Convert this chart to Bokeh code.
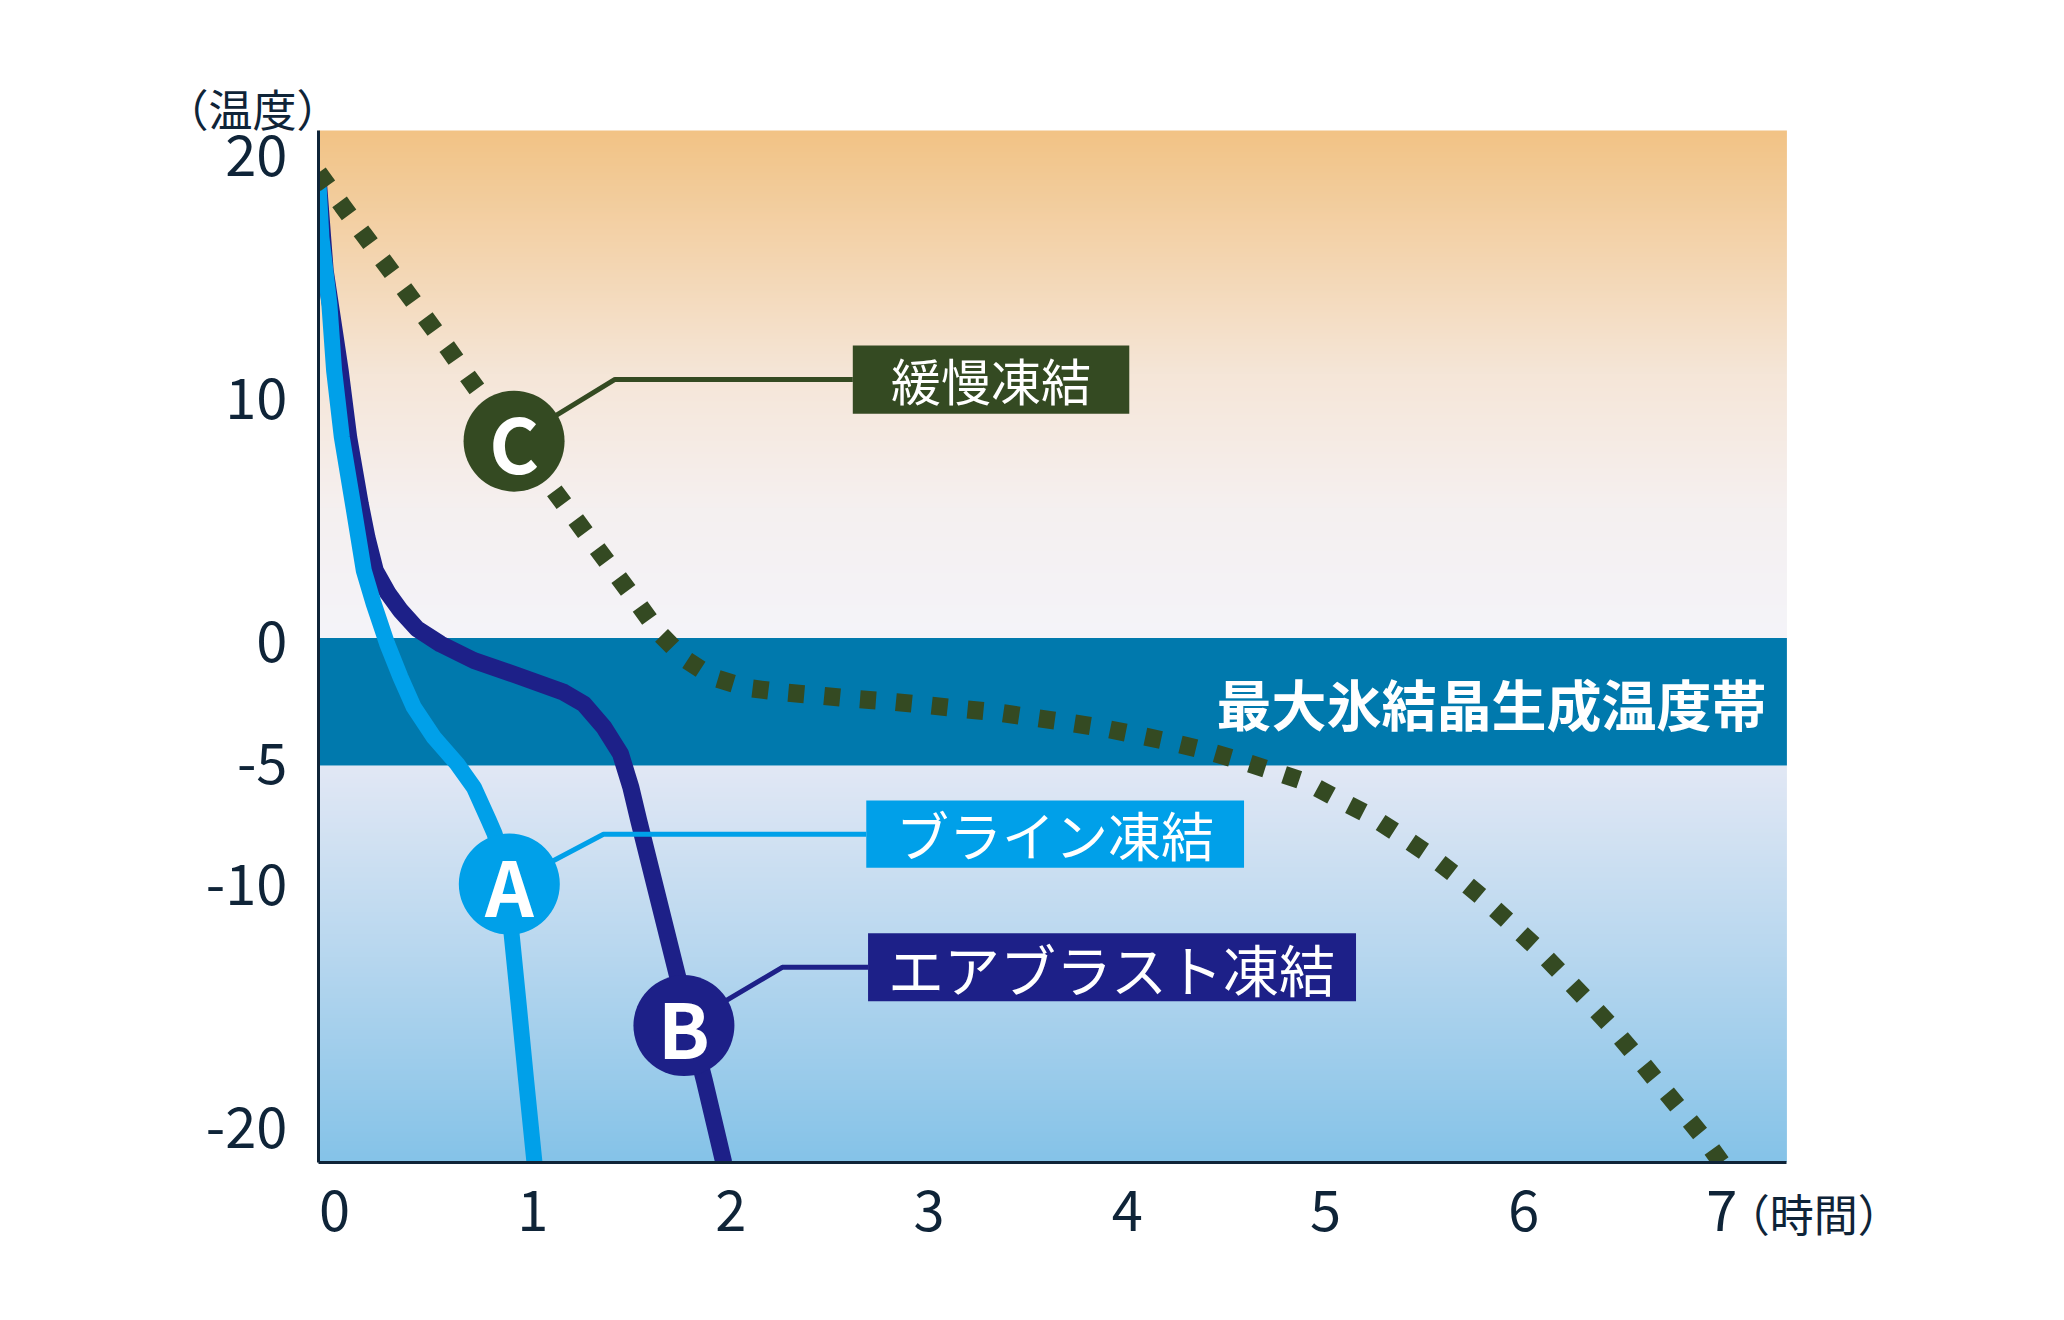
import numpy as np
from bokeh.plotting import figure
from bokeh.models import Range1d, FixedTicker, ColumnDataSource
from bokeh.core.properties import value
from bokeh.embed import file_html
from bokeh.resources import INLINE

# ---------------- data ----------------
x_ticks = [0, 1, 2, 3, 4, 5, 6, 7]
y_ticks = [-20, -10, -5, 0, 10, 20]
y_tick_labels = ["-20", "-10", "-5", "0", "10", "20"]
x_unit_label = "（時間）"
y_unit_label = "（温度）"

# plotted area (hours, degrees)
t_min, t_max = -0.081, 7.328
temp_min, temp_max = -21.45, 21.04

# A : brine freezing
brine_t = [-0.081, -0.066, -0.026, -0.002, 0.037, 0.093, 0.148, 0.198, 0.266, 0.333,
           0.400, 0.501, 0.619, 0.703, 0.779, 0.807, 0.845, 0.875, 0.893, 0.930, 0.967, 1.009]
brine_temp = [18.9, 16.64, 13.90, 11.16, 8.41, 5.67, 2.92, 1.55, -0.10, -1.47,
              -2.70, -3.94, -5.04, -6.00, -7.37, -7.90, -8.90, -10.0, -12.0, -15.0, -18.07, -21.45]

# B : air blast freezing
air_t = [-0.081, -0.047, 0.004, 0.029, 0.072, 0.130, 0.164, 0.206, 0.269, 0.333, 0.417,
         0.535, 0.703, 0.922, 1.157, 1.258, 1.359, 1.443, 1.495, 1.535, 1.730, 1.866, 1.964]
air_temp = [18.9, 15.28, 12.52, 11.15, 8.39, 5.67, 4.28, 2.92, 2.00, 1.28, 0.52,
            -0.10, -0.78, -1.40, -2.09, -2.57, -3.53, -4.62, -6.00, -7.37, -13.75, -18.07, -21.45]

# C : slow freezing
slow_t = [-0.081, 0.039, 0.145, 0.358, 0.568, 0.673, 0.906, 1.108, 1.426, 1.532,
          1.640, 1.766, 1.914, 2.085, 2.264, 2.445, 2.625, 2.805, 2.981, 3.161,
          3.339, 3.515, 3.693, 3.871, 4.048, 4.225, 4.396, 4.569, 4.742, 4.904,
          5.059, 5.223, 5.375, 5.524, 5.664, 5.803, 5.937, 6.067, 6.191, 6.315,
          6.439, 6.557, 6.672, 6.786, 6.898, 6.997]
slow_temp = [19.3, 17.95, 16.78, 14.45, 12.12, 10.91, 8.3, 6.22, 2.72, 1.55,
             0.34, -0.71, -1.49, -1.91, -2.09, -2.22, -2.36, -2.47, -2.61, -2.77,
             -2.91, -3.12, -3.32, -3.55, -3.84, -4.15, -4.49, -4.90, -5.35, -5.79,
             -6.47, -7.16, -7.96, -8.78, -9.67, -10.62, -11.63, -12.62, -13.67, -14.73,
             -15.82, -16.96, -18.10, -19.22, -20.33, -21.45]

# zone of maximum ice crystal formation
band_top = 0.15
band_bottom = -5.1
band_label = "最大氷結晶生成温度帯"

# marker circles
marker_letters = ["A", "B", "C"]
marker_t = [0.882, 1.763, 0.906]
marker_temp = [-9.98, -15.81, 8.25]

# callout labels
callout_names = ["ブライン凍結", "エアブラスト凍結", "緩慢凍結"]

# ---------------- layout / style ----------------
W, H = 2048, 1304
ZERO_PX, TOP_PX = 334.0, 130.0          # canvas px of t=0 and of temp_max
PX_X, PX_Y = 198.2, 24.29               # px per hour, px per degree
FL, FR, FT, FB = 100, 2000, 40, 1290    # frame edges in canvas px

C_A, C_B, C_C = "#00a0e9", "#1d2088", "#344a22"
BAND = "#0079ad"
INK = "#0f2438"
FONT = "Noto Sans CJK JP"

box_left = [2.683, 2.692, 2.615]
box_right = [4.589, 5.154, 4.010]
box_top = [-6.546, -12.01, 12.19]
box_bottom = [-9.317, -14.81, 9.38]
box_text_x = [3.635, 3.923, 3.312]
box_text_y = [-7.93, -13.41, 10.79]
box_font = ["53px", "56px", "50px"]
elbow_x = [1.357, 2.259, 1.415]

xr = Range1d((FL - ZERO_PX) / PX_X, (FR - ZERO_PX) / PX_X)
yr = Range1d(temp_max - (FB - TOP_PX) / PX_Y, temp_max + (TOP_PX - FT) / PX_Y)

p = figure(width=W, height=H, x_range=xr, y_range=yr,
           output_backend="svg", toolbar_location=None,
           min_border_left=FL, min_border_right=W - FR, min_border_top=FT, min_border_bottom=H - FB)
p.grid.visible = False
p.outline_line_color = None
p.background_fill_color = "white"
p.border_fill_color = "white"


def gradient(y_lo, y_hi, stops, n=600):
    ys = np.linspace(y_lo, y_hi, n)
    stops = sorted(stops)
    sy = np.array([s[0] for s in stops])
    cols = np.array([[int(s[1][i:i + 2], 16) for i in (1, 3, 5)] for s in stops])
    img = np.empty((n, 2), dtype=np.uint32)
    view = img.view(dtype=np.uint8).reshape((n, 2, 4))
    for c in range(3):
        view[:, :, c] = np.interp(ys, sy, cols[:, c]).astype(np.uint8)[:, None]
    view[:, :, 3] = 255
    return img


upper = gradient(band_top, temp_max, [(temp_max, "#f2c385"), (11.0, "#f5e6d8"), (5.5, "#f5f0f0"), (band_top, "#f4f4f9")])
lower = gradient(temp_min, band_bottom, [(band_bottom, "#e2e8f5"), (-13.0, "#b7d7ef"), (temp_min, "#85c3e8")])
p.image_rgba(image=[upper], x=t_min, y=band_top, dw=t_max - t_min, dh=temp_max - band_top)
p.image_rgba(image=[lower], x=t_min, y=temp_min, dw=t_max - t_min, dh=band_bottom - temp_min)

p.quad(left=[t_min], right=[t_max], top=[band_top], bottom=[band_bottom], fill_color=BAND, line_color=None)
p.text(x=[5.838], y=[-2.47], text=[band_label], text_font=value(FONT), text_font_size=value("55px"),
       text_font_style="bold", text_color="white", text_align="center", text_baseline="middle")

# curves
p.line(air_t, air_temp, line_color=C_B, line_width=17, line_join="round")
p.line(brine_t, brine_temp, line_color=C_A, line_width=16, line_join="round")
p.line(slow_t, slow_temp, line_color=C_C, line_width=18, line_dash="16 20")

# white masks: keep the curves inside the plotted area (outside it is page background)
p.quad(left=[xr.start, xr.start], right=[t_min, xr.end], top=[yr.end, temp_min],
       bottom=[yr.start, yr.start], fill_color="white", line_color=None)

# callout leader lines
lead_xs = [[marker_t[i], elbow_x[i], box_left[i]] for i in range(3)]
lead_ys = [[marker_temp[i], box_text_y[i], box_text_y[i]] for i in range(3)]
p.multi_line(xs=lead_xs, ys=lead_ys, line_color=[C_A, C_B, C_C], line_width=5)

# callout boxes and texts
box_src = ColumnDataSource(dict(left=box_left, right=box_right, top=box_top, bottom=box_bottom,
                                color=[C_A, C_B, C_C], tx=box_text_x, ty=box_text_y,
                                name=callout_names, fs=box_font))
p.quad(left="left", right="right", top="top", bottom="bottom", fill_color="color",
       line_color=None, source=box_src)
p.text(x="tx", y="ty", text="name", text_font=value(FONT), text_font_size="fs",
       text_color="white", text_align="center", text_baseline="middle", source=box_src)

# marker circles
p.scatter(x=marker_t, y=marker_temp, size=101, fill_color=[C_A, C_B, C_C], line_color=None)
p.text(x=marker_t, y=marker_temp, text=marker_letters, text_font=value(FONT),
       text_font_size=value("76px"), text_font_style="bold", text_color="white",
       text_align="center", text_baseline="middle")

# unit labels
p.text(x=[-0.414], y=[21.946], text=[y_unit_label], text_font=value(FONT), text_font_size=value("44px"),
       text_color=INK, text_align="center", text_baseline="middle")
p.text(x=[7.464], y=[-23.546], text=[x_unit_label], text_font=value(FONT), text_font_size=value("44px"),
       text_color=INK, text_align="center", text_baseline="middle")

# axes pinned to the plotted area
for ax in (p.xaxis[0], p.yaxis[0]):
    ax.axis_line_color = INK
    ax.axis_line_width = 3
    ax.major_tick_line_color = None
    ax.minor_tick_line_color = None
    ax.major_tick_in = 0
    ax.major_tick_out = 0
    ax.major_label_text_font = FONT
    ax.major_label_text_font_size = "56px"
    ax.major_label_text_color = INK
p.xaxis.ticker = FixedTicker(ticks=x_ticks)
p.yaxis.ticker = FixedTicker(ticks=y_ticks)
p.xaxis.fixed_location = temp_min
p.yaxis.fixed_location = t_min
p.xaxis.bounds = (t_min, t_max)
p.yaxis.bounds = (temp_min, temp_max)
p.yaxis.major_label_overrides = {t: s for t, s in zip(y_ticks, y_tick_labels)}
p.yaxis.major_label_standoff = 31
p.xaxis.major_label_standoff = 27

open("out.html", "w").write(file_html(p, INLINE))
